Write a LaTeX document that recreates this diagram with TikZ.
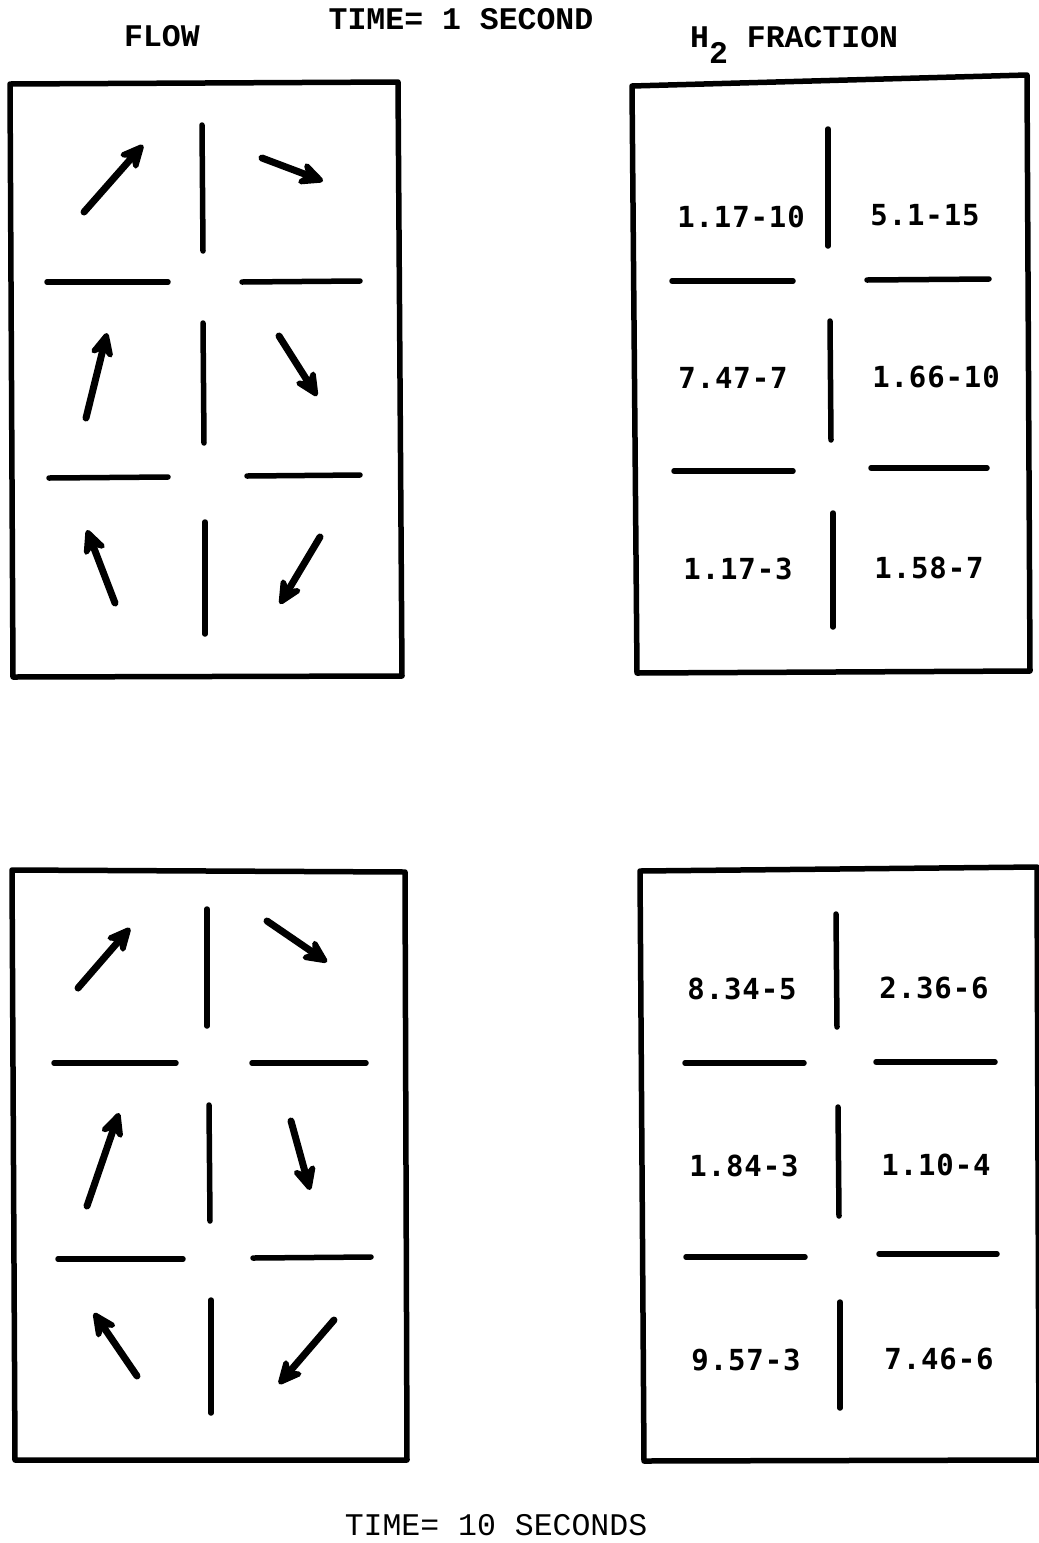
\documentclass[tikz,border=0pt]{standalone}
\usepackage{fontspec}
\usetikzlibrary{arrows.meta}
\newfontfamily\hdrfont{Liberation Mono}
\newfontfamily\numfont[LetterSpace=3]{DejaVu Sans Mono}
\tikzset{
  frame/.style={line width=5.5pt, line join=round},
  divider/.style={line width=5.5pt, line cap=round},
  flowarrow/.style={line width=7pt, line cap=round,
    -{Stealth[length=32pt,width=30pt,inset=11pt,round]}},
  hdr/.style={font=\hdrfont\bfseries\fontsize{31.5pt}{36pt}\selectfont, inner sep=0pt, anchor=base},
  hdrlight/.style={font=\hdrfont\fontsize{31.5pt}{36pt}\selectfont, inner sep=0pt, anchor=base},
  val/.style={font=\numfont\bfseries\fontsize{29pt}{34pt}\selectfont, inner sep=0pt}
}
\begin{document}
\begin{tikzpicture}[x=1pt,y=-1pt]
\useasboundingbox (0,0) rectangle (1039,1543);
\fill[white] (0,0) rectangle (1039,1543);

% headers
\node[hdr] (flow) at (162,46) {FLOW};
\node[hdr] (time1) at (461,29) {TIME= 1 SECOND};
\node[hdr, anchor=base west] (h2) at (690,47) {H\raisebox{-16pt}{2} FRACTION};
\node[hdrlight] (time10) at (496,1535) {TIME= 10 SECONDS};

% ---------- top-left: flow at 1 s ----------
\draw[frame] (10,84) -- (398,82) -- (402,676) -- (13,677) -- cycle;
\draw[divider] (202,125) -- (203,251);
\draw[divider] (203,323) -- (204,443);
\draw[divider] (205,522) -- (205,634);
\draw[divider] (47,282) -- (168,282);
\draw[divider] (242,282) -- (360,281);
\draw[divider] (49,478) -- (168,477);
\draw[divider] (247,476) -- (360,475);
\coordinate (a1t) at (84,212);  \coordinate (a1h) at (143,145);
\coordinate (a2t) at (262,158); \coordinate (a2h) at (323,181);
\coordinate (a3t) at (86,418);  \coordinate (a3h) at (107,333);
\coordinate (a4t) at (279,336); \coordinate (a4h) at (317,396);
\coordinate (a5t) at (115,603); \coordinate (a5h) at (87,530);
\coordinate (a6t) at (320,537); \coordinate (a6h) at (280,604);
\draw[flowarrow] (a1t) -- (a1h);
\draw[flowarrow] (a2t) -- (a2h);
\draw[flowarrow] (a3t) -- (a3h);
\draw[flowarrow] (a4t) -- (a4h);
\draw[flowarrow] (a5t) -- (a5h);
\draw[flowarrow] (a6t) -- (a6h);

% ---------- top-right: H2 fraction at 1 s ----------
\draw[frame] (632,86) -- (1027,75) -- (1030,671) -- (637,673) -- cycle;
\draw[divider] (828,129) -- (828,246);
\draw[divider] (830,321) -- (831,440);
\draw[divider] (833,513) -- (833,627);
\draw[divider] (672,281) -- (793,281);
\draw[divider] (867,280) -- (989,279);
\draw[divider] (674,471) -- (793,471);
\draw[divider] (871,468) -- (987,468);
\node[val] (v11) at (741,217) {1.17-10};
\node[val] (v12) at (925,215) {5.1-15};
\node[val] (v13) at (733,378) {7.47-7};
\node[val] (v14) at (936,377) {1.66-10};
\node[val] (v15) at (738,569) {1.17-3};
\node[val] (v16) at (929,568) {1.58-7};

% ---------- bottom-left: flow at 10 s ----------
\draw[frame] (12,870) -- (405,872) -- (407,1460) -- (15,1460) -- cycle;
\draw[divider] (207,909) -- (207,1026);
\draw[divider] (209,1105) -- (210,1221);
\draw[divider] (211,1300) -- (211,1413);
\draw[divider] (54,1063) -- (176,1063);
\draw[divider] (252,1063) -- (366,1063);
\draw[divider] (58,1259) -- (183,1259);
\draw[divider] (253,1258) -- (371,1257);
\coordinate (b1t) at (78,988);   \coordinate (b1h) at (130,928);
\coordinate (b2t) at (267,921);  \coordinate (b2h) at (327,962);
\coordinate (b3t) at (87,1206);  \coordinate (b3h) at (119,1113);
\coordinate (b4t) at (291,1121); \coordinate (b4h) at (310,1190);
\coordinate (b5t) at (137,1376); \coordinate (b5h) at (94,1313);
\coordinate (b6t) at (334,1320); \coordinate (b6h) at (279,1384);
\draw[flowarrow] (b1t) -- (b1h);
\draw[flowarrow] (b2t) -- (b2h);
\draw[flowarrow] (b3t) -- (b3h);
\draw[flowarrow] (b4t) -- (b4h);
\draw[flowarrow] (b5t) -- (b5h);
\draw[flowarrow] (b6t) -- (b6h);

% ---------- bottom-right: H2 fraction at 10 s ----------
\draw[frame] (640,871) -- (1037,867) -- (1039,1460) -- (644,1461) -- cycle;
\draw[divider] (836,914) -- (837,1027);
\draw[divider] (838,1107) -- (839,1216);
\draw[divider] (840,1302) -- (840,1408);
\draw[divider] (685,1063) -- (804,1063);
\draw[divider] (876,1062) -- (995,1062);
\draw[divider] (686,1257) -- (805,1257);
\draw[divider] (879,1254) -- (997,1254);
\node[val] (w11) at (742,989) {8.34-5};
\node[val] (w12) at (934,988) {2.36-6};
\node[val] (w13) at (744,1166) {1.84-3};
\node[val] (w14) at (936,1165) {1.10-4};
\node[val] (w15) at (746,1360) {9.57-3};
\node[val] (w16) at (939,1359) {7.46-6};
\end{tikzpicture}
\end{document}
